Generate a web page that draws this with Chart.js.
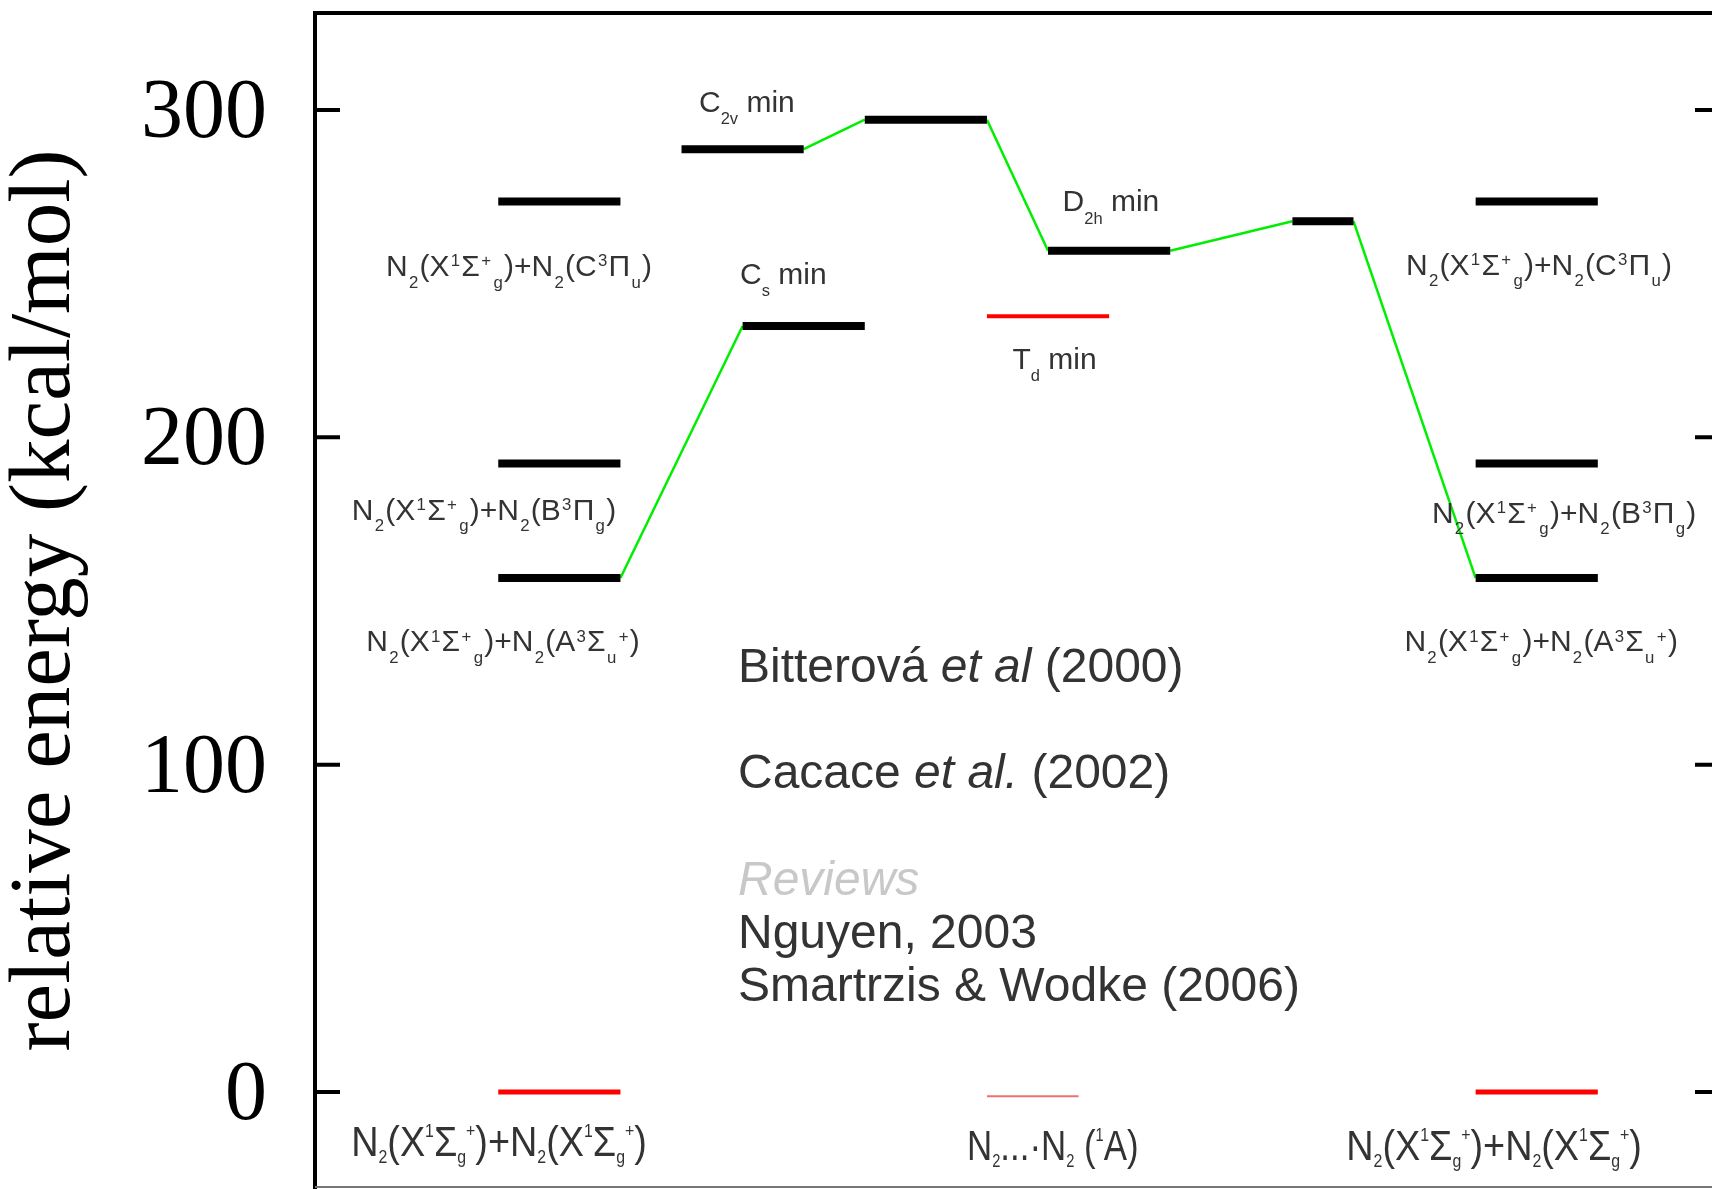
<!DOCTYPE html>
<html>
<head>
  <title>N4 relative energies</title>
  <script src="https://cdn.jsdelivr.net/npm/chart.js@4"></script>
  <style>
    body { margin: 0; background: #fff; overflow: hidden; }
    #wrap { width: 1712px; height: 1189px; overflow: hidden; }
  </style>
</head>
<body>
  <div id="wrap"><canvas id="levels" width="1730" height="1189"></canvas></div>
  <script>
    // levels, left to right along the reaction coordinate (x in column units, energy in kcal/mol)
    const states = ['C-left', 'B-left', 'A-left', 'X-left', 'C2v min', 'Cs min', 'TS1', 'Td min',
                    'D2h min', 'N2..N2', 'TS2', 'C-right', 'B-right', 'A-right', 'X-right'];
    const stateStart  = [1.5, 1.5, 1.5, 1.5, 3, 3.5, 4.5, 5.5, 6, 5.5, 8, 9.5, 9.5, 9.5, 9.5];
    const stateEnd    = [2.5, 2.5, 2.5, 2.5, 4, 4.5, 5.5, 6.5, 7, 6.25, 8.5, 10.5, 10.5, 10.5, 10.5];
    const stateEnergy = [272, 192, 157, 0, 288, 234, 297, 237, 257, -1.3, 266, 272, 192, 157, 0];
    const stateKind   = ['level', 'level', 'level', 'ground', 'level', 'level', 'level', 'td',
                         'level', 'vdw', 'level', 'level', 'level', 'level', 'ground'];
    const stateLabels = [
      'N_2(X^1Σ^+_g)+N_2(C^3Π_u)',
      'N_2(X^1Σ^+_g)+N_2(B^3Π_g)',
      'N_2(X^1Σ^+_g)+N_2(A^3Σ_u^+)',
      'N_2(X^1Σ_g^+)+N_2(X^1Σ_g^+)',
      'C_{2v} min', 'C_s min', '', 'T_d min', 'D_{2h} min', 'N_2...·N_2 (^1A)', '',
      'N_2(X^1Σ^+_g)+N_2(C^3Π_u)',
      'N_2(X^1Σ^+_g)+N_2(B^3Π_g)',
      'N_2(X^1Σ^+_g)+N_2(A^3Σ_u^+)',
      'N_2(X^1Σ_g^+)+N_2(X^1Σ_g^+)'
    ];
    // green pathway: from right end of one level to left end of the next
    const pathLinks = [[2, 5], [4, 6], [6, 8], [8, 10], [10, 13]];

    const yTicks = [0, 100, 200, 300];
    const yTickLabels = ['0', '100', '200', '300'];

    const references = ['Bitterová *et al* (2000)', 'Cacace *et al.* (2002)', '*Reviews*',
                        'Nguyen, 2003', 'Smartrzis & Wodke (2006)'];

    // ---- styling / placement ----
    const kindStyle = {
      level:  { color: '#000000', width: 8 },
      ground: { color: '#ff0000', width: 5 },
      td:     { color: '#ff0000', width: 4 },
      vdw:    { color: '#f07070', width: 2 }
    };
    const upper = { size: 30, stretch: 1, minor: 0.56, drop: 0.38, rise: 0.33, gap: 2.5 };
    const lower = { size: 42, stretch: 0.9, minor: 0.42, drop: 0.17, rise: 0.45, gap: 0 };
    const lowerVdw = { size: 42, stretch: 0.83, minor: 0.42, drop: 0.17, rise: 0.45, gap: 0 };
    const mid = { size: 30, stretch: 1, minor: 0.55, drop: 0.42, rise: 0.33, gap: 0 };
    const labelPlace = {
      0: { x: 1.670, y: 249.2, align: 'center', st: upper },
      1: { x: 1.383, y: 174.8, align: 'center', st: upper },
      2: { x: 1.539, y: 134.6, align: 'center', st: upper },
      3: { x: 1.506, y: -19.6, align: 'center', st: lower },
      4: { x: 3.143, y: 299.5, align: 'left', st: mid },
      5: { x: 3.479, y: 246.9, align: 'left', st: mid },
      7: { x: 5.709, y: 221.0, align: 'left', st: mid },
      8: { x: 6.119, y: 269.0, align: 'left', st: mid },
      9: { x: 5.337, y: -20.6, align: 'left', st: lowerVdw },
      11: { x: 10.019, y: 249.7, align: 'center', st: upper },
      12: { x: 10.224, y: 173.8, align: 'center', st: upper },
      13: { x: 10.036, y: 134.6, align: 'center', st: upper },
      14: { x: 9.651, y: -20.6, align: 'center', st: lower }
    };
    const refStyle = { size: 48, stretch: 1, minor: 0.6, drop: 0.3, rise: 0.35, gap: 0 };
    const refPlace = { x: 3.462, y: [125.4, 93.0, 60.3, 44.1, 27.7], colors: ['#333', '#333', '#c8c8c8', '#333', '#333'] };

    // parse "_x", "_{xy}", "^x", "^{xy}" and "*italic*"
    function parseRich(str) {
      const out = [];
      let i = 0, italic = false, buf = '';
      const flush = () => { if (buf) out.push({ t: buf, s: 0, it: italic }); buf = ''; };
      while (i < str.length) {
        const c = str[i];
        if (c === '*') { flush(); italic = !italic; i++; }
        else if ((c === '_' || c === '^') && i + 1 < str.length) {
          flush();
          let txt;
          if (str[i + 1] === '{') { const j = str.indexOf('}', i + 2); txt = str.slice(i + 2, j); i = j + 1; }
          else { txt = str[i + 1]; i += 2; }
          out.push({ t: txt, s: c === '_' ? -1 : 1, it: italic });
        } else { buf += c; i++; }
      }
      flush();
      return out;
    }

    function drawRich(ctx, text, x, y, st, align, color) {
      const segs = parseRich(text);
      const fontOf = s => (s.it ? 'italic ' : '') + (st.size * (s.s ? st.minor : 1)) + 'px "Liberation Sans", Arial, sans-serif';
      let w = 0;
      segs.forEach(s => {
        ctx.font = fontOf(s);
        s.w = ctx.measureText(s.t).width + (s.s ? st.gap : 0);
        w += s.w;
      });
      const x0 = align === 'center' ? x - w * st.stretch / 2 : x;
      ctx.save();
      ctx.translate(x0, y);
      ctx.scale(st.stretch, 1);
      ctx.fillStyle = color;
      ctx.textBaseline = 'alphabetic';
      ctx.textAlign = 'left';
      let cx = 0;
      segs.forEach(s => {
        ctx.font = fontOf(s);
        const dy = s.s < 0 ? st.drop * st.size : (s.s > 0 ? -st.rise * st.size : 0);
        ctx.fillText(s.t, cx + (s.s ? st.gap / 2 : 0), dy);
        cx += s.w;
      });
      ctx.restore();
    }

    const frameAndTicks = {
      id: 'frameAndTicks',
      afterDraw(chart) {
        const { ctx, chartArea: a, scales: { y } } = chart;
        ctx.save();
        ctx.lineCap = 'butt';
        ctx.strokeStyle = '#000';
        ctx.lineWidth = 4;
        ctx.beginPath();
        ctx.moveTo(a.left - 2, a.top);
        ctx.lineTo(a.right + 2, a.top);
        ctx.moveTo(a.right, a.top);
        ctx.lineTo(a.right, a.bottom);
        ctx.stroke();
        y.ticks.forEach(t => {
          const py = y.getPixelForValue(t.value);
          ctx.beginPath();
          ctx.moveTo(a.left, py); ctx.lineTo(a.left + 25, py);
          ctx.moveTo(a.right - 25, py); ctx.lineTo(a.right, py);
          ctx.stroke();
        });
        ctx.strokeStyle = '#777';
        ctx.lineWidth = 2;
        ctx.beginPath();
        ctx.moveTo(a.left, a.bottom - 1);
        ctx.lineTo(a.right, a.bottom - 1);
        ctx.stroke();
        ctx.restore();
      }
    };

    const textLabels = {
      id: 'textLabels',
      afterDatasetsDraw(chart) {
        const { ctx, scales: { x, y } } = chart;
        stateLabels.forEach((txt, i) => {
          const p = labelPlace[i];
          if (!txt || !p) return;
          drawRich(ctx, txt, x.getPixelForValue(p.x), y.getPixelForValue(p.y), p.st, p.align, '#333');
        });
        references.forEach((txt, i) => {
          drawRich(ctx, txt, x.getPixelForValue(refPlace.x), y.getPixelForValue(refPlace.y[i]),
                   refStyle, 'left', refPlace.colors[i]);
        });
      }
    };

    const datasets = [];
    states.forEach((name, i) => {
      const k = kindStyle[stateKind[i]];
      datasets.push({
        label: name,
        data: [{ x: stateStart[i], y: stateEnergy[i] }, { x: stateEnd[i], y: stateEnergy[i] }],
        borderColor: k.color,
        borderWidth: k.width,
        borderCapStyle: 'butt',
        pointRadius: 0,
        fill: false
      });
    });
    pathLinks.forEach(([a, b]) => {
      datasets.push({
        label: states[a] + ' -> ' + states[b],
        data: [{ x: stateEnd[a], y: stateEnergy[a] }, { x: stateStart[b], y: stateEnergy[b] }],
        borderColor: '#00ee00',
        borderWidth: 2.5,
        pointRadius: 0,
        fill: false
      });
    });

    new Chart(document.getElementById('levels'), {
      type: 'line',
      data: { datasets: datasets },
      options: {
        responsive: false,
        animation: false,
        layout: { padding: { left: 0, top: 13, right: 10, bottom: 1 } },
        plugins: { legend: { display: false }, tooltip: { enabled: false } },
        scales: {
          x: { type: 'linear', min: 0, max: 11.5, display: false },
          y: {
            type: 'linear',
            min: -29.3,
            max: 329.6,
            afterBuildTicks: s => { s.ticks = yTicks.map(v => ({ value: v })); },
            afterFit: s => { s.width = 315; s.paddingTop = 0; s.paddingBottom = 0; },
            grid: { display: false, drawTicks: false },
            border: { display: true, color: '#000', width: 4 },
            ticks: {
              padding: 48,
              labelOffset: 5,
              color: '#000',
              font: { family: 'Liberation Serif', size: 84 },
              callback: (v, i) => yTickLabels[i]
            },
            title: {
              display: true,
              text: 'relative energy (kcal/mol)',
              color: '#000',
              font: { family: 'Liberation Serif', size: 87 },
              padding: { top: -6, bottom: 0 }
            }
          }
        }
      },
      plugins: [frameAndTicks, textLabels]
    });
  </script>
</body>
</html>
